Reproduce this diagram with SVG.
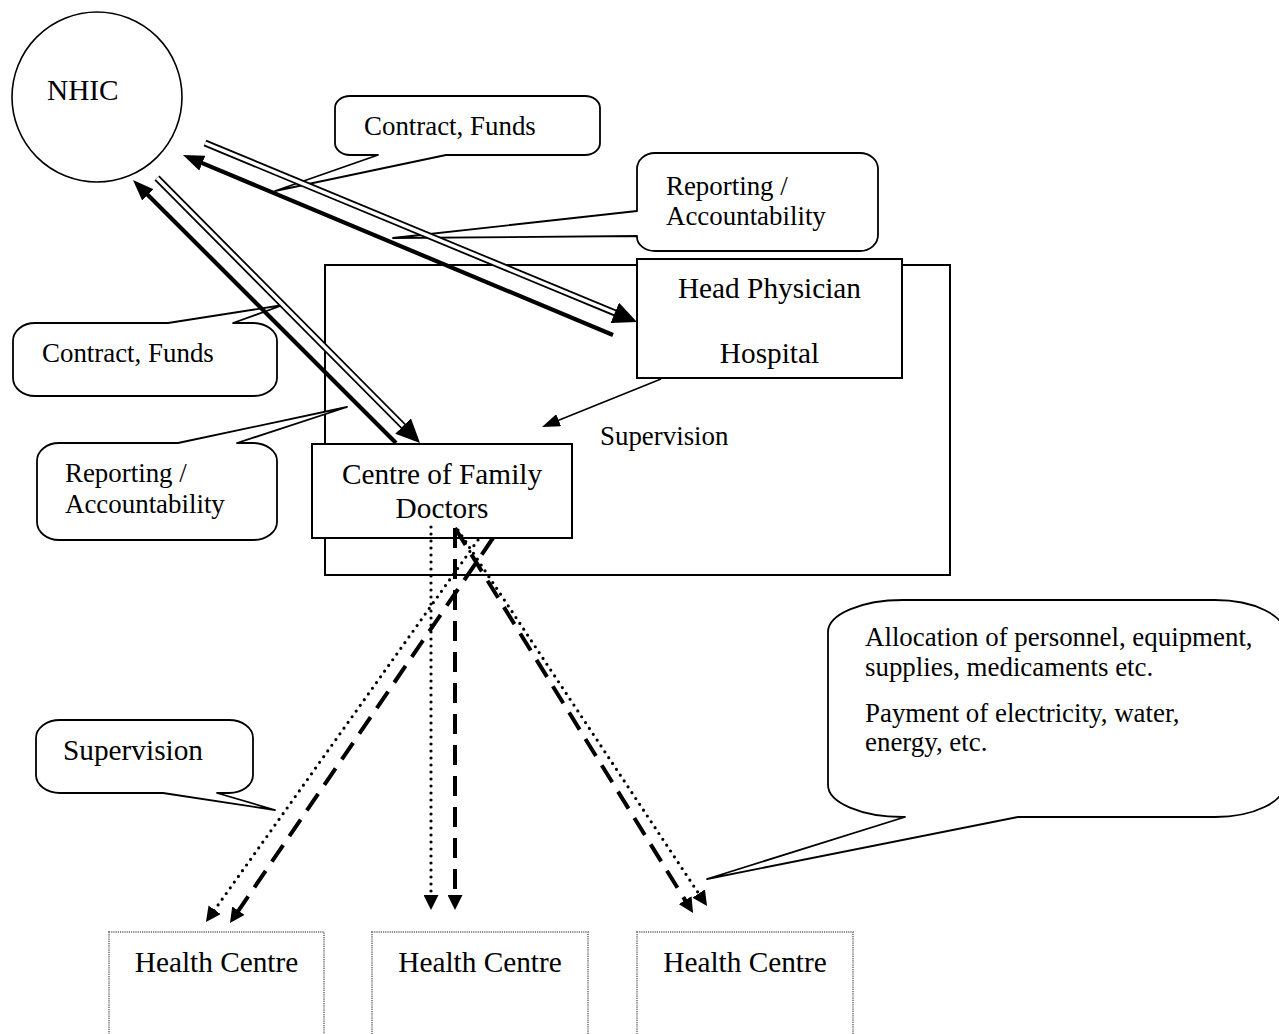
<svg xmlns="http://www.w3.org/2000/svg" width="1279" height="1034" viewBox="0 0 1279 1034">
  <defs>
    <style>
      text { font-family: "Liberation Serif", "Times New Roman", serif; fill: #000; }
      .big { font-size: 29.3px; }
      .small { font-size: 26.9px; }
      .frame { fill: none; stroke: #000; stroke-width: 2; }
      .box { fill: #fff; stroke: #000; stroke-width: 2; }
      .hc { fill: #fff; stroke: #8c8c8c; stroke-width: 2; stroke-dasharray: 1.2 1; }
      .call { fill: #fff; stroke: #000; stroke-width: 1.8; stroke-linejoin: round; }
      .circle { fill: #fff; stroke: #000; stroke-width: 1.6; }
      .thick { fill: none; stroke: #000; stroke-width: 4.2; }
      .dblo { fill: none; stroke: #000; stroke-width: 7; }
      .dbli { fill: none; stroke: #fff; stroke-width: 3.4; }
      .thin { fill: none; stroke: #000; stroke-width: 1.6; }
      .dash { fill: none; stroke: #000; stroke-width: 4; stroke-dasharray: 20 11; }
      .dot { fill: none; stroke: #000; stroke-width: 3.2; stroke-linecap: round; stroke-dasharray: 0 7; }
    </style>
    <marker id="ahThick" markerUnits="userSpaceOnUse" viewBox="0 0 21 16" markerWidth="21" markerHeight="16" refX="2" refY="8" orient="auto">
      <path d="M0,0 L21,8 L0,16 Z" fill="#000"/>
    </marker>
    <marker id="ahDbl" markerUnits="userSpaceOnUse" viewBox="0 0 24 22" markerWidth="24" markerHeight="22" refX="3" refY="11" orient="auto">
      <path d="M0,0 L24,11 L0,22 Z" fill="#000"/>
    </marker>
    <marker id="ahThin" markerUnits="userSpaceOnUse" viewBox="0 0 18 13" markerWidth="18" markerHeight="13" refX="2" refY="6.5" orient="auto">
      <path d="M0,0 L18,6.5 L0,13 Z" fill="#000"/>
    </marker>
    <marker id="ahSmall" markerUnits="userSpaceOnUse" viewBox="0 0 15 15" markerWidth="15" markerHeight="15" refX="2" refY="7.5" orient="auto">
      <path d="M0,0 L15,7.5 L0,15 Z" fill="#000"/>
    </marker>
  </defs>

  <rect width="1279" height="1034" fill="#fff"/>

  <!-- hospital district frame -->
  <g id="district-frame">
    <rect class="frame" x="325" y="265" width="625" height="310"/>
  </g>

  <g id="nhic">
    <circle class="circle" cx="97" cy="97" r="85"/>
    <text class="big" x="47" y="100">NHIC</text>
  </g>

  <g id="head-physician">
    <rect class="box" x="637" y="259" width="265" height="119"/>
    <text class="big" x="769.5" y="298" text-anchor="middle">Head Physician</text>
    <text class="big" x="769.5" y="363" text-anchor="middle">Hospital</text>
  </g>

  <g id="family-doctors">
    <rect class="box" x="312" y="444" width="260" height="94"/>
    <text class="big" x="442" y="484" text-anchor="middle">Centre of Family</text>
    <text class="big" x="442" y="518" text-anchor="middle">Doctors</text>
  </g>

  <g id="health-centre-1">
    <rect class="hc" x="109" y="932" width="215" height="120"/>
    <text class="big" x="216.5" y="972" text-anchor="middle">Health Centre</text>
  </g>
  <g id="health-centre-2">
    <rect class="hc" x="372" y="932" width="216" height="120"/>
    <text class="big" x="480" y="972" text-anchor="middle">Health Centre</text>
  </g>
  <g id="health-centre-3">
    <rect class="hc" x="637" y="932" width="216" height="120"/>
    <text class="big" x="745" y="972" text-anchor="middle">Health Centre</text>
  </g>

  <!-- callouts -->
  <g id="callout-contract-top">
    <path class="call" d="M350,96 H585 A15,12 0 0 1 600,108 V143 A15,12 0 0 1 585,155 H446 L275,191 L378,155 H350 A15,12 0 0 1 335,143 V108 A15,12 0 0 1 350,96 Z"/>
    <text class="small" x="364" y="135">Contract, Funds</text>
  </g>

  <g id="callout-reporting-top">
    <path class="call" d="M655,153 H860 A18,16 0 0 1 878,169 V235 A18,16 0 0 1 860,251 H655 A18,14 0 0 1 637,237 V236 L393,238 L637,211 V169 A18,16 0 0 1 655,153 Z"/>
    <text class="small" x="666" y="195">Reporting /</text>
    <text class="small" x="666" y="225">Accountability</text>
  </g>

  <g id="callout-contract-left">
    <path class="call" d="M35,323 H168 L283,305 L233,323 H253 A24,18 0 0 1 277,341 V378 A24,18 0 0 1 253,396 H35 A22,18 0 0 1 13,378 V341 A22,18 0 0 1 35,323 Z"/>
    <text class="small" x="42" y="362">Contract, Funds</text>
  </g>

  <g id="callout-reporting-left">
    <path class="call" d="M59,443 H178 L347,407 L237,443 H253 A24,18 0 0 1 277,461 V522 A24,18 0 0 1 253,540 H59 A22,18 0 0 1 37,522 V461 A22,18 0 0 1 59,443 Z"/>
    <text class="small" x="65" y="482">Reporting /</text>
    <text class="small" x="65" y="513">Accountability</text>
  </g>

  <g id="callout-supervision">
    <path class="call" d="M60,720 H229 A24,18 0 0 1 253,738 V775 A24,18 0 0 1 229,793 H217 L275,810 L163,793 H60 A24,18 0 0 1 36,775 V738 A24,18 0 0 1 60,720 Z"/>
    <text class="big" x="63" y="760">Supervision</text>
  </g>

  <g id="callout-allocation">
    <path class="call" d="M903,600 H1215 A70,34 0 0 1 1285,634 V783 A70,34 0 0 1 1215,817 H1018 L707,879 L905,817 H903 A75,32 0 0 1 828,785 V632 A75,32 0 0 1 903,600 Z"/>
    <text class="small" x="865" y="646">Allocation of personnel, equipment,</text>
    <text class="small" x="865" y="676">supplies, medicaments etc.</text>
    <text class="small" x="865" y="722">Payment of electricity, water,</text>
    <text class="small" x="865" y="751">energy, etc.</text>
  </g>

  <text class="small" x="600" y="445">Supervision</text>

  <g id="connectors">
    <!-- NHIC to hospital: contract and funds -->
    <line class="dblo" x1="205" y1="143" x2="617.6" y2="314" marker-end="url(#ahDbl)"/>
    <line class="dbli" x1="205" y1="143" x2="614.8" y2="312.8"/>
    <!-- hospital reports back to NHIC -->
    <line class="thick" x1="613" y1="335" x2="200.5" y2="162.4" marker-end="url(#ahThick)"/>
    <!-- NHIC to family doctors: contract and funds -->
    <line class="dblo" x1="157" y1="178" x2="405.2" y2="428.1" marker-end="url(#ahDbl)"/>
    <line class="dbli" x1="157" y1="178" x2="403.1" y2="426"/>
    <!-- family doctors report back to NHIC -->
    <line class="thick" x1="396" y1="443" x2="146.4" y2="193.4" marker-end="url(#ahThick)"/>
    <!-- hospital supervises family doctors -->
    <line class="thin" x1="661" y1="379" x2="556.8" y2="421" marker-end="url(#ahThin)"/>

    <!-- family doctors to health centres -->
    <line class="dot" x1="478" y1="540" x2="213.5" y2="911.4" marker-end="url(#ahSmall)"/>
    <line class="dash" x1="493" y1="538" x2="237.3" y2="912.3" marker-end="url(#ahSmall)"/>
    <line class="dot" x1="431" y1="527" x2="431" y2="897" marker-end="url(#ahSmall)"/>
    <line class="dash" x1="455" y1="528" x2="455" y2="897" marker-end="url(#ahSmall)"/>
    <line class="dash" x1="455" y1="528" x2="686.2" y2="901.9" marker-end="url(#ahSmall)"/>
    <line class="dot" x1="458" y1="530" x2="699.8" y2="895.2" marker-end="url(#ahSmall)"/>
  </g>
</svg>
